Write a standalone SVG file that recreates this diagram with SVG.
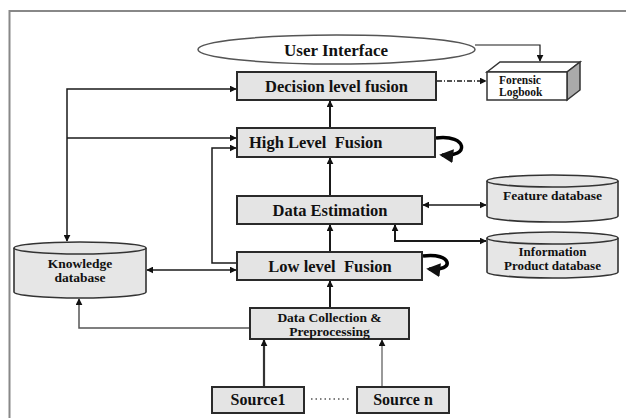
<svg xmlns="http://www.w3.org/2000/svg" width="626" height="418" viewBox="0 0 626 418">
<defs>
<marker id="ah" viewBox="0 0 10 10" refX="9" refY="5" markerWidth="7" markerHeight="7" markerUnits="userSpaceOnUse" orient="auto-start-reverse"><path d="M0,0 L10,5 L0,10 z" fill="#111"/></marker>
<marker id="ahb" viewBox="0 0 10 10" refX="8" refY="5" markerWidth="4" markerHeight="4" orient="auto-start-reverse"><path d="M0,0 L10,5 L0,10 z" fill="#111"/></marker>
</defs>
<style>
.box{fill:#e4e4e4;stroke:#2a2a2a;stroke-width:2}
.cyl{fill:#e6e6e6;stroke:#333;stroke-width:1.6}
.t{font-family:"Liberation Serif","Times New Roman",serif;font-weight:bold;fill:#111;text-anchor:middle}
.c{fill:none;stroke:#1a1a1a;stroke-width:1.5}
.g{fill:none;stroke:#555;stroke-width:1.5}
.loop{fill:none;stroke:#000;stroke-width:3.5}
</style>
<rect width="626" height="418" fill="#fff"/>
<rect x="9.5" y="11" width="700" height="500" fill="none" stroke="#888" stroke-width="2"/>

<g id="connectors">
<path class="c" d="M330,128 V101" marker-end="url(#ah)" style="stroke-width:2"/>
<path class="c" d="M330,196 V158" marker-end="url(#ah)" style="stroke-width:2"/>
<path class="c" d="M330,252 V225" marker-end="url(#ah)" style="stroke-width:2"/>
<path class="c" d="M330,308 V281" marker-end="url(#ah)" style="stroke-width:2"/>
<path class="c" d="M67,241 V89 H236" marker-start="url(#ah)" marker-end="url(#ah)"/>
<path class="c" d="M67,138 H236" marker-end="url(#ah)"/>
<path class="c" d="M237,263 H212 V148 H236" marker-end="url(#ah)"/>
<path class="c" d="M147,270 H236" marker-start="url(#ah)" marker-end="url(#ah)"/>
<path class="g" d="M250,328 H79 V299" marker-end="url(#ah)"/>
<path class="c" d="M264,387 V340" marker-end="url(#ah)" style="stroke-width:2.2;stroke:#333"/>
<path class="g" d="M382,387 V340" marker-end="url(#ah)" style="stroke:#777"/>
<path d="M311,399 H351" stroke="#555" stroke-width="1.5" stroke-dasharray="1.5,3" fill="none"/>
<path class="c" d="M423,205 H486" marker-start="url(#ah)" marker-end="url(#ah)"/>
<path class="c" d="M486,241 H395 V225" marker-start="url(#ah)" marker-end="url(#ah)" style="stroke-width:2"/>
<path class="c" d="M437,81 H486" stroke-dasharray="5,2,1,2" marker-end="url(#ah)" style="stroke-width:1.3"/>
<path class="c" d="M475,45 H540 V61" marker-end="url(#ah)" style="stroke-width:1.2"/>
<path class="loop" d="M436,138 C468,134 470,158 442,155" marker-end="url(#ahb)"/>
<path class="loop" d="M423,256 C452,252 456,272 429,269" marker-end="url(#ahb)"/>
</g>

<g id="user-interface">
<ellipse cx="336.5" cy="49.5" rx="138.5" ry="14.5" fill="#fff" stroke="#555" stroke-width="1.5"/>
<text class="t" x="336" y="55.5" font-size="17">User Interface</text>
</g>

<g id="decision">
<rect class="box" x="237" y="72" width="199" height="28"/>
<text class="t" x="336.5" y="91.5" font-size="16.5">Decision level fusion</text>
</g>

<g id="forensic">
<path d="M487,72 L500,62 L580,62 L567,72 z" fill="#fff" stroke="#333" stroke-width="1.5"/>
<path d="M567,72 L580,62 L580,90 L567,100 z" fill="#aaa" stroke="#333" stroke-width="1.5"/>
<rect x="487" y="72" width="80" height="28" fill="#fff" stroke="#333" stroke-width="1.5"/>
<text class="t" x="499" y="84" font-size="11.5" style="text-anchor:start">Forensic</text>
<text class="t" x="499" y="96" font-size="11.5" style="text-anchor:start">Logbook</text>
</g>

<g id="high-level">
<rect class="box" x="237" y="128" width="198" height="29"/>
<text class="t" x="249" y="148" font-size="16.5" style="text-anchor:start" xml:space="preserve">High Level  Fusion</text>
</g>

<g id="data-estimation">
<rect class="box" x="237" y="196" width="185" height="28"/>
<text class="t" x="330" y="215.5" font-size="16.5">Data Estimation</text>
</g>

<g id="low-level">
<rect class="box" x="237" y="252" width="185" height="28"/>
<text class="t" x="330" y="271.5" font-size="16.5" xml:space="preserve">Low level  Fusion</text>
</g>

<g id="data-collection">
<rect class="box" x="250" y="308" width="159" height="31"/>
<text class="t" x="329.5" y="322" font-size="13.5">Data Collection &amp;</text>
<text class="t" x="329.5" y="335.5" font-size="13.5">Preprocessing</text>
</g>

<g id="source1">
<rect class="box" x="212" y="387" width="92" height="26"/>
<text class="t" x="258" y="405" font-size="16">Source1</text>
</g>

<g id="source-n">
<rect class="box" x="357" y="387" width="92" height="26"/>
<text class="t" x="403" y="405" font-size="16">Source n</text>
</g>

<g id="knowledge-db">
<path class="cyl" d="M14,248 V292 A66,6 0 0 0 146,292 V248"/>
<ellipse class="cyl" cx="80" cy="248" rx="66" ry="6"/>
<text class="t" x="80" y="268" font-size="13.5">Knowledge</text>
<text class="t" x="80" y="282" font-size="13.5">database</text>
</g>

<g id="feature-db">
<path class="cyl" d="M487,181 V216 A65.5,6 0 0 0 618,216 V181"/>
<ellipse class="cyl" cx="552.5" cy="181" rx="65.5" ry="6"/>
<text class="t" x="552.5" y="199.5" font-size="13.5">Feature database</text>
</g>

<g id="info-db">
<path class="cyl" d="M487,238 V272 A65.5,6 0 0 0 618,272 V238"/>
<ellipse class="cyl" cx="552.5" cy="238" rx="65.5" ry="6"/>
<text class="t" x="552.5" y="256" font-size="13">Information</text>
<text class="t" x="552.5" y="269.5" font-size="13">Product database</text>
</g>
</svg>
